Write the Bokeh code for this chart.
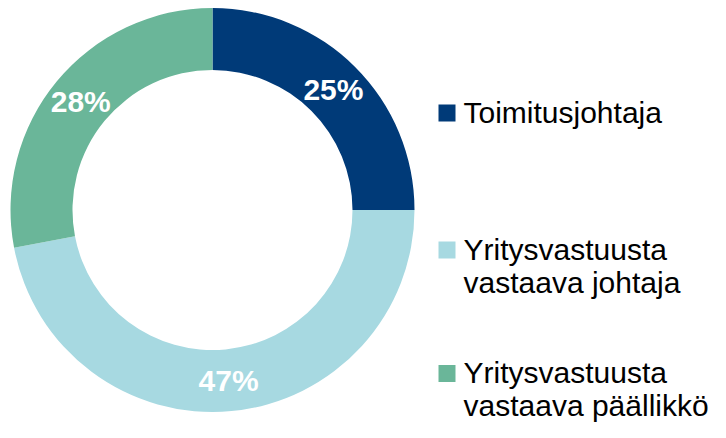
import numpy as np
from bokeh.plotting import figure
from bokeh.models import Range1d, ColumnDataSource
from bokeh.core.properties import value
from bokeh.embed import file_html
from bokeh.resources import INLINE

# ---- data ----
categories = ["Toimitusjohtaja", "Yritysvastuusta\nvastaava johtaja", "Yritysvastuusta\nvastaava päällikkö"]
shares = [25, 47, 28]
colors = ["#003A78", "#A7D9E1", "#6AB699"]

W, H = 710, 422
p = figure(width=W, height=H, output_backend="svg", toolbar_location=None,
           x_range=Range1d(0, W), y_range=Range1d(0, H),
           x_axis_type=None, y_axis_type=None, min_border=0)
p.outline_line_color = None
p.grid.visible = False

cx, cy = 212, 212.5
r_in, r_out = 140, 202

frac = np.array(shares, dtype=float) / np.sum(shares)
cum = np.concatenate([[0], np.cumsum(frac)])
start = np.pi / 2 - 2 * np.pi * cum[:-1]
end = np.pi / 2 - 2 * np.pi * cum[1:]
mid = (start + end) / 2
r_mid = (r_in + r_out) / 2

src = ColumnDataSource(dict(start=start, end=end, color=colors))
p.annular_wedge(x=cx, y=cy, inner_radius=r_in, outer_radius=r_out,
                start_angle="start", end_angle="end", direction="clock",
                fill_color="color", line_color=None, source=src)

lab = ColumnDataSource(dict(x=cx + r_mid * np.cos(mid), y=cy + r_mid * np.sin(mid),
                            t=[f"{s}%" for s in shares]))
p.text(x="x", y="y", text="t", source=lab, text_color="white",
       text_font=value("Liberation Sans"), text_font_style="bold",
       text_font_size="30px", text_align="center", text_baseline="middle")

# ---- legend (manual) ----
sq_x = 446.5
sq_y = [309.5, 172.5, 49.0]
p.scatter(x=[sq_x] * 3, y=sq_y, marker="square", size=17, fill_color=colors, line_color=None)

tx, ty, tt = [], [], []
line_gap = 33
for cat, yy in zip(categories, sq_y):
    for i, ln in enumerate(cat.split("\n")):
        tx.append(463)
        ty.append(yy + 1 - i * line_gap)
        tt.append(ln)
p.text(x=tx, y=ty, text=tt, text_color="#000000",
       text_font=value("Liberation Sans"), text_font_size="30px",
       text_align="left", text_baseline="middle")

open("out.html", "w").write(file_html(p, INLINE))
